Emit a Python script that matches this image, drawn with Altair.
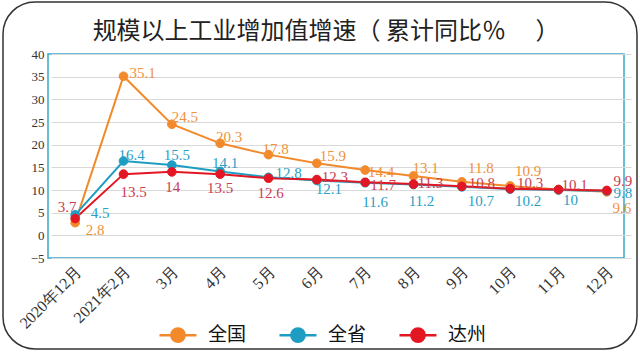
import altair as alt
import pandas as pd

categories = ["2020年12月", "2021年2月", "3月", "4月", "5月", "6月",
              "7月", "8月", "9月", "10月", "11月", "12月"]
series_names = ["全国", "全省", "达州"]
national = [2.8, 35.1, 24.5, 20.3, 17.8, 15.9, 14.4, 13.1, 11.8, 10.9, 10.1, 9.6]
province = [4.5, 16.4, 15.5, 14.1, 12.8, 12.1, 11.6, 11.2, 10.7, 10.2, 10, 9.8]
dazhou = [3.7, 13.5, 14, 13.5, 12.6, 12.3, 11.7, 11.3, 10.8, 10.3, 10.1, 9.9]
y_ticks = [-5, 0, 5, 10, 15, 20, 25, 30, 35, 40]
title_text = "规模以上工业增加值增速（    累计同比％　      ）"

# styling
line_colors = ["#F28A2B", "#1E9DC2", "#E31623"]
label_colors = ["#F0923C", "#2A9FC6", "#CC3B52"]

# value-label placement: pixel offset of each label from its point (dx, dy); None hides it
label_offsets = {
    "全国": [(20, 7), (19, -3), (13, -7), (9, -6), (7, -6), (16, -7),
             (16, 2), (12, -8), (19, -14), (18, -15), None, (15, 16)],
    "全省": [(25, -2), (8, -6), (5, -10), (5, -8), (20, -4), (12, 9),
             (10, 19), (8, 16), (19, 14), (18, 12), (12, 10), (16, 2)],
    "达州": [(-8, -12), (10, 18), (1, 15), (0, 14), (2, 15), (18, -3),
             (18, 3), (17, -1), (20, -3), (20, -6), (16, -5), (16, -9)],
}

PLOT_W, PLOT_H = 576, 204
Y_MIN, Y_MAX = -5, 40
X_RANGE = [3, 583]
HALF_STEP = (X_RANGE[1] - X_RANGE[0]) / len(categories) / 2

rows = []
for name, vals in zip(series_names, [national, province, dazhou]):
    for i, (c, v) in enumerate(zip(categories, vals)):
        off = label_offsets[name][i]
        rows.append({
            "month": c, "idx": i, "series": name, "value": v,
            "dx": off[0] if off else 0, "dy": off[1] if off else 0,
            "show": off is not None,
        })
df = pd.DataFrame(rows)

x_enc = alt.X("month:N", sort=categories,
              scale=alt.Scale(range=X_RANGE, padding=0),
              axis=alt.Axis(title=None, labelAngle=-45, labelAlign="right",
                            labelBaseline="middle", labelFont="Liberation Serif",
                            labelFontSize=16, labelColor="#333", labelPadding=11,
                            labelOffset=4, ticks=False, domain=False, grid=False))
y_axis = alt.Axis(title=None, values=y_ticks, labelFont="Liberation Serif",
                  labelFontSize=13, labelColor="#333", labelPadding=4,
                  ticks=False, domain=False, gridColor="#d9d9d9")
y_scale = alt.Scale(domain=[Y_MIN, Y_MAX], nice=False)
y_enc = alt.Y("value:Q", scale=y_scale, axis=y_axis)

cscale = alt.Scale(domain=series_names, range=line_colors)
legend_path = ("M-1,0L1,0M-0.36,0a0.36,0.36 0 1,0 0.72,0"
               "a0.36,0.36 0 1,0 -0.72,0Z")
leg = alt.Legend(title=None, orient="none", legendX=110, legendY=261,
                 direction="horizontal", symbolType=legend_path, symbolSize=1369,
                 symbolStrokeWidth=2.5, symbolOpacity=1,
                 labelFont="Noto Sans CJK SC", labelFontSize=19, labelColor="#111",
                 labelOffset=10, columnPadding=27)

base = alt.Chart(df)

lines = base.mark_line(strokeWidth=2).encode(
    x=x_enc, y=y_enc,
    stroke=alt.Stroke("series:N", scale=cscale, legend=leg),
    order="idx:Q",
)
points = base.mark_point(filled=True, size=75, opacity=1, strokeWidth=1).encode(
    x=x_enc, y=y_enc,
    fill=alt.Fill("series:N", scale=cscale, legend=leg),
    stroke=alt.Stroke("series:N", scale=cscale, legend=leg),
)
labels = base.transform_filter(alt.datum.show).transform_calculate(
    ly=alt.datum.value - alt.datum.dy * (Y_MAX - Y_MIN) / PLOT_H,
    ox=alt.datum.dx + HALF_STEP,
).mark_text(font="Liberation Serif", fontSize=15, align="center",
            baseline="middle").encode(
    x=x_enc,
    xOffset=alt.XOffset("ox:Q", scale=None),
    y=alt.Y("ly:Q", scale=y_scale, axis=y_axis),
    text=alt.Text("value:Q", format="~g"),
    color=alt.Color("series:N", scale=alt.Scale(domain=series_names, range=label_colors),
                    legend=None),
)

frame = alt.Chart(alt.Data(values=[{"a": 1}])).mark_rect(
    filled=False, stroke="#333", strokeWidth=1.5, cornerRadius=32
).encode(x=alt.value(-45), x2=alt.value(589), y=alt.value(-52), y2=alt.value(295))

chart = alt.layer(frame, lines, points, labels).properties(
    width=PLOT_W, height=PLOT_H,
    autosize=alt.AutoSizeParams(type="none"),
    padding={"left": 48, "top": 54, "right": 16, "bottom": 94},
    title=alt.TitleParams(title_text, font="Noto Sans CJK SC", fontSize=24,
                          fontWeight="normal", color="#222", anchor="middle",
                          dx=-10, dy=57, offset=14),
    background="white",
).configure_view(stroke="#3AA8C9", strokeWidth=1.5)

chart.save("out.html", embed_options={"renderer": "svg", "actions": False})
